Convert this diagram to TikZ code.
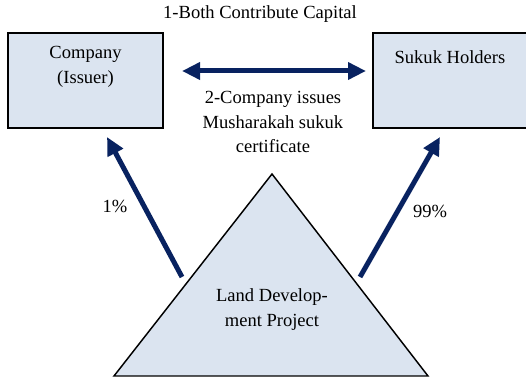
\documentclass[tikz,border=0pt]{standalone}
\usepackage{fontspec}
\setmainfont{Liberation Serif}
\usetikzlibrary{arrows.meta}
\definecolor{navy}{RGB}{8,34,96}
\definecolor{boxfill}{RGB}{219,228,240}
\begin{document}
\begin{tikzpicture}[x=0.75pt,y=-0.75pt,
  every node/.style={font=\fontsize{13.9}{18.5}\selectfont, inner sep=0pt},
  boxstyle/.style={draw=black, line width=1.5pt, fill=boxfill},
  bigarrow/.style={draw=navy, line width=3.75pt, -{Triangle[length=13.5pt,width=12.5pt]}},
  dblarrow/.style={draw=navy, line width=3.75pt, {Triangle[length=13.5pt,width=12.5pt]}-{Triangle[length=13.5pt,width=12.5pt]}},
  lbl/.style={align=center}]
\useasboundingbox (0,0) rectangle (526,378);
\begin{scope}
\clip (0,0) rectangle (526,378);
% boxes
\draw[boxstyle] (8,33) rectangle (163,128);
\draw[boxstyle] (373,33) rectangle (545,128);
\node[lbl] (company) at (85.5,67) {Company\\(Issuer)};
\node[lbl] (sukuk) at (450,57) {Sukuk Holders};
\coordinate (cbottom) at (107,137);
\coordinate (sbottom) at (440,137);
\coordinate (cright) at (182,71);
\coordinate (sleft) at (366,71);
% triangle
\coordinate (apex) at (272,174);
\coordinate (bl) at (114,376);
\coordinate (br) at (428,376);
\draw[black, line width=1.1pt, fill=boxfill, line join=miter] (apex) -- (bl) -- (br) -- cycle;
\node[lbl] (land) at (272,309.5) {Land Develop-\\ment Project};
\coordinate (lstart) at (182,277);
\coordinate (rstart) at (360,277);
% arrows
\draw[dblarrow] (cright) -- (sleft);
\draw[bigarrow] (lstart) -- (cbottom);
\draw[bigarrow] (rstart) -- (sbottom);
% labels
\node (top) at (260,14) {1-Both Contribute Capital};
\node[lbl] (issue) at (273,122) {2-Company issues\\Musharakah sukuk\\certificate};
\node (one) at (115,206) {1\%};
\node (ninety) at (430,211) {99\%};
\end{scope}
\end{tikzpicture}
\end{document}
